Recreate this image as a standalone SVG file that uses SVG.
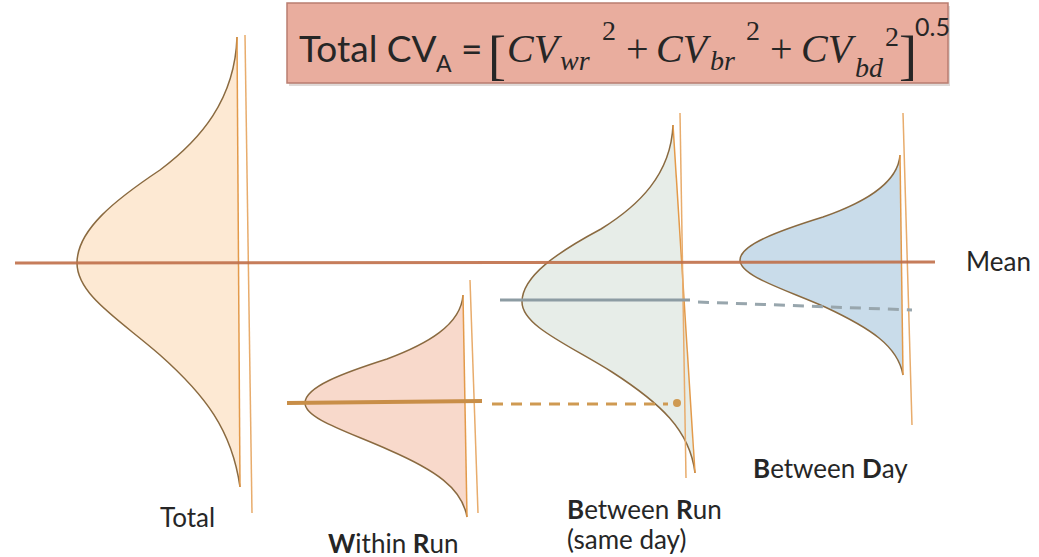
<svg xmlns="http://www.w3.org/2000/svg" width="1039" height="557" viewBox="0 0 1039 557">
<style>
.lbl{font-family:Lato,"Open Sans","Liberation Sans",sans-serif;font-size:26px;fill:#262626}
.b{font-weight:bold}
.curve{stroke:#8a6a40;stroke-width:1.5;fill:none}
.edge{stroke:#e39a4a;stroke-width:1.5}
.vline{stroke:#e8ac6c;stroke-width:1.5}
.f-sans{font-family:Lato,"Open Sans","Liberation Sans",sans-serif;fill:#262626}
.f-math{font-family:"Liberation Serif",serif;fill:#262626}
.it{font-style:italic}
</style>
<rect width="1039" height="557" fill="#ffffff"/>

<g id="formula">
<rect x="289" y="6" width="661" height="80" fill="#c9c0bc" opacity="0.6"/>
<rect x="287" y="3" width="661" height="80" fill="#e9ad9e" stroke="#b97d70" stroke-width="1.5"/>
<text class="f-sans" x="299" y="62" font-size="37">Total CV</text>
<text class="f-sans" x="436" y="72" font-size="23">A</text>
<text class="f-sans" x="461" y="62" font-size="37">=</text>
<text class="f-math" x="488" y="74" font-size="54">[</text>
<text class="f-math it" x="507" y="62" font-size="40">CV</text>
<text class="f-math it" x="560" y="70" font-size="28">wr</text>
<text class="f-math" x="602" y="40" font-size="28">2</text>
<text class="f-math" x="626" y="62" font-size="40">+</text>
<text class="f-math it" x="656" y="62" font-size="40">CV</text>
<text class="f-math it" x="710" y="70" font-size="28">br</text>
<text class="f-math" x="746" y="40" font-size="28">2</text>
<text class="f-math" x="770" y="62" font-size="40">+</text>
<text class="f-math it" x="801" y="62" font-size="40">CV</text>
<text class="f-math it" x="855" y="77" font-size="28">bd</text>
<text class="f-math" x="885" y="46" font-size="28">2</text>
<text class="f-math" x="899" y="74" font-size="54">]</text>
<text class="f-sans" x="915" y="36" font-size="25">0.5</text>
</g>

<g id="total">
<path d="M237,37 C235,100 200,140 160,170 C115,200 77,230 77,263 C77,295 120,320 160,355 C205,395 232,430 240,487 Z" fill="#fde9d3"/>
<path class="curve" d="M237,37 C235,100 200,140 160,170 C115,200 77,230 77,263 C77,295 120,320 160,355 C205,395 232,430 240,487"/>
<line class="edge" x1="237" y1="37" x2="240" y2="487"/>
<line class="vline" x1="245" y1="35" x2="252" y2="513"/>
<text class="lbl" x="160" y="527">Total</text>
</g>

<g id="within-run">
<path d="M463,295 C461,325 427,344 387,359 C343,373 305,387 305,403 C305,419 349,432 389,450 C435,470 462,488 467,517 Z" fill="#f8d9cb"/>
<path class="curve" d="M463,295 C461,325 427,344 387,359 C343,373 305,387 305,403 C305,419 349,432 389,450 C435,470 462,488 467,517"/>
<line class="edge" x1="463" y1="295" x2="467" y2="517"/>
<line class="vline" x1="470" y1="280" x2="478" y2="513"/>
<text class="lbl" x="328" y="553"><tspan class="b">W</tspan>ithin <tspan class="b">R</tspan>un</text>
</g>

<g id="between-run">
<path d="M673,125 C671,175 638,206 601,229 C558,252 522,276 522,302 C522,326 569,345 612,372 C660,403 690,430 695,473 Z" fill="#e7ede8"/>
<path class="curve" d="M673,125 C671,175 638,206 601,229 C558,252 522,276 522,302 C522,326 569,345 612,372 C660,403 690,430 695,473"/>
<line class="edge" x1="673" y1="125" x2="695" y2="473"/>
<line class="vline" x1="680" y1="113" x2="686" y2="478"/>
<text class="lbl" x="567" y="519"><tspan class="b">B</tspan>etween <tspan class="b">R</tspan>un</text>
<text class="lbl" x="567" y="549">(same day)</text>
</g>

<g id="between-day">
<path d="M900,155 C898,184 863,203 823,217 C778,231 740,245 740,260 C740,276 784,289 825,307 C870,328 898,346 903,375 Z" fill="#c9dcea"/>
<path class="curve" d="M900,155 C898,184 863,203 823,217 C778,231 740,245 740,260 C740,276 784,289 825,307 C870,328 898,346 903,375"/>
<line class="edge" x1="900" y1="155" x2="903" y2="375"/>
<line class="vline" x1="903" y1="113" x2="912" y2="425"/>
<text class="lbl" x="753" y="478"><tspan class="b">B</tspan>etween <tspan class="b">D</tspan>ay</text>
</g>

<g id="mean-label">
<text class="lbl" x="966" y="271">Mean</text>
</g>

<g id="connectors">
<line x1="15" y1="263" x2="935" y2="262" stroke="#c0704a" stroke-width="3" opacity="0.9"/>
<line x1="287" y1="403" x2="482" y2="401" stroke="#c88e48" stroke-width="4"/>
<line x1="492" y1="404" x2="668" y2="404" stroke="#cf9a52" stroke-width="3" stroke-dasharray="11 8"/>
<circle cx="677" cy="403" r="4" fill="#cf9a52"/>
<line x1="500" y1="300" x2="690" y2="300" stroke="#8d9ca3" stroke-width="3"/>
<line x1="698" y1="302" x2="912" y2="310" stroke="#98a6ad" stroke-width="3" stroke-dasharray="11 8"/>
</g>
</svg>
